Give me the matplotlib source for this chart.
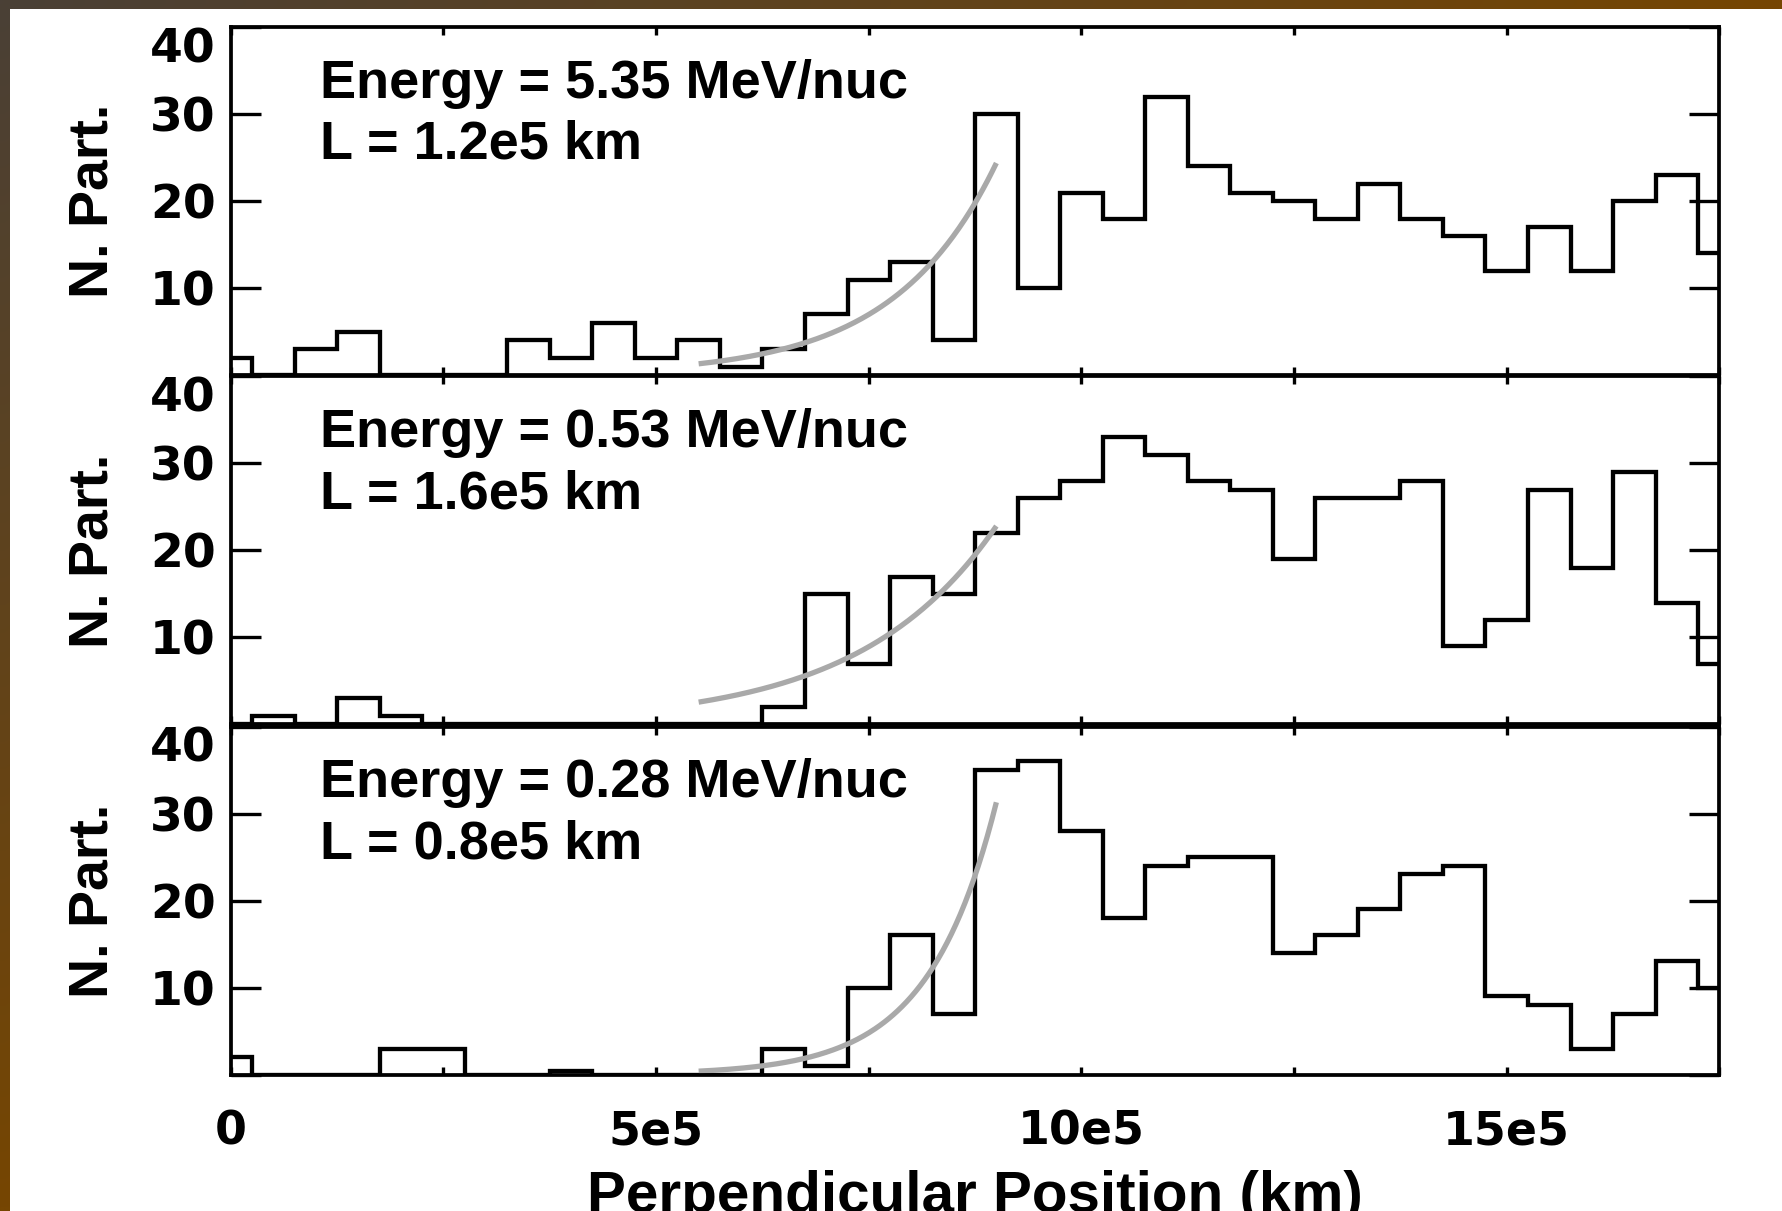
import numpy as np
import matplotlib
matplotlib.use("Agg")
import matplotlib.pyplot as plt
from matplotlib.patches import Rectangle

plt.rcParams['font.family'] = ['Liberation Sans', 'DejaVu Sans']
plt.rcParams['font.weight'] = 'bold'

# ---------------- data ----------------
bin_width = 5e4                      # km, bins centred on multiples of 5e4
n_bins = 36
counts_535 = [2, 0, 3, 5, 0, 0, 0, 4, 2, 6, 2, 4, 1, 3, 7, 11, 13, 4,
              30, 10, 21, 18, 32, 24, 21, 20, 18, 22, 18, 16, 12, 17, 12, 20, 23, 14]
counts_053 = [0, 1, 0, 3, 1, 0, 0, 0, 0, 0, 0, 0, 0, 2, 15, 7, 17, 15,
              22, 26, 28, 33, 31, 28, 27, 19, 26, 26, 28, 9, 12, 27, 18, 29, 14, 7]
counts_028 = [2, 0, 0, 0, 3, 3, 0, 0, 0.4, 0, 0, 0, 0, 3, 1, 10, 16, 7,
              35, 36, 28, 18, 24, 25, 25, 14, 16, 19, 23, 24, 9, 8, 3, 7, 13, 10]

energy_labels = ["Energy = 5.35 MeV/nuc", "Energy = 0.53 MeV/nuc", "Energy = 0.28 MeV/nuc"]
l_labels = ["L = 1.2e5 km", "L = 1.6e5 km", "L = 0.8e5 km"]
fit_L = [1.2e5, 1.6e5, 0.8e5]        # e-folding lengths (km)
fit_end_val = [24.4, 22.8, 31.3]     # fit value at the end of the fit range
fit_start, fit_end = 5.5e5, 9.0e5

x_ticks = [0, 2.5e5, 5e5, 7.5e5, 10e5, 12.5e5, 15e5, 17.5e5]
x_ticklabels = ["0", "", "5e5", "", "10e5", "", "15e5", ""]
y_ticks = [0, 10, 20, 30, 40]
y_ticklabels = ["", "10", "20", "30", "40"]
x_label = "Perpendicular Position (km)"
y_label = "N. Part."

# ---------------- figure ----------------
W, H = 1783, 1211
fig = plt.figure(figsize=(W / 100, H / 100), dpi=100)
fig.patch.set_facecolor('white')

# background border (brown gradient on top & left edges)
bg = fig.add_axes([0, 0, 1, 1], zorder=-10)
bg.set_xlim(0, W); bg.set_ylim(H, 0); bg.axis('off')
gx, gy = np.meshgrid(np.linspace(0, 1, 200), np.linspace(0, 1, 140))
t = np.clip(gx + gy, 0, 1)[..., None]
c0 = np.array([0x4a, 0x40, 0x36]) / 255
c1 = np.array([0x76, 0x46, 0x02]) / 255
img = c0 * (1 - t) + c1 * t
bg.imshow(img, extent=[0, W, H, 0], aspect='auto', interpolation='bilinear')
bg.add_patch(Rectangle((10, 9), W, H, facecolor='white', edgecolor='none'))
bg.set_xlim(0, W); bg.set_ylim(H, 0)

left = 230.8 / W
width = (1719.4 - 230.8) / W
height = 348.0 / H
bottoms = [1 - 375.3 / H, 1 - 724.4 / H, 1 - 1074.6 / H]

all_counts = [counts_535, counts_053, counts_028]
edges = (np.arange(n_bins + 1) - 0.5) * bin_width

for i in range(3):
    ax = fig.add_axes([left, bottoms[i], width, height])
    ax.stairs(all_counts[i], edges, baseline=0, color='black', lw=3.1)
    xf = np.linspace(fit_start, fit_end, 200)
    yf = fit_end_val[i] * np.exp((xf - fit_end) / fit_L[i])
    ax.plot(xf, yf, color='#a9a9a9', lw=3.8, solid_capstyle='butt')

    ax.set_xlim(0, 1.75e6)
    ax.set_ylim(0, 40)
    ax.set_xticks(x_ticks)
    if i == 2:
        ax.set_xticklabels(x_ticklabels)
    else:
        ax.set_xticklabels([""] * len(x_ticks))
    ax.set_yticks(y_ticks)
    ax.set_yticklabels(y_ticklabels)
    ax.yaxis.get_major_ticks()[4].label1.set_va('top')

    ax.tick_params(axis='x', direction='in', top=True, bottom=True,
                   length=6.0, width=2.4, pad=25, labelsize=33,
                   labelfontfamily='DejaVu Sans')
    ax.tick_params(axis='y', direction='in', left=True, right=True,
                   length=21.6, width=2.4, pad=10.8, labelsize=34,
                   labelfontfamily='DejaVu Sans')
    for sp in ax.spines.values():
        sp.set_linewidth(2.7)

    ax.text(0.0598, 0.797, energy_labels[i], transform=ax.transAxes,
            fontsize=39, fontweight='bold', va='baseline', ha='left')
    ax.text(0.0598, 0.6216, l_labels[i], transform=ax.transAxes,
            fontsize=39, fontweight='bold', va='baseline', ha='left')
    ax.text(-0.0825, 0.5, y_label, transform=ax.transAxes, rotation=90,
            rotation_mode='anchor', ha='center', va='baseline',
            fontsize=40, fontweight='bold')

fig.text((230.8 + 1719.4) / 2 / W, (H - 1212) / H, x_label,
         ha='center', va='baseline', fontsize=42, fontweight='bold')

fig.savefig("out.png", dpi=100)
